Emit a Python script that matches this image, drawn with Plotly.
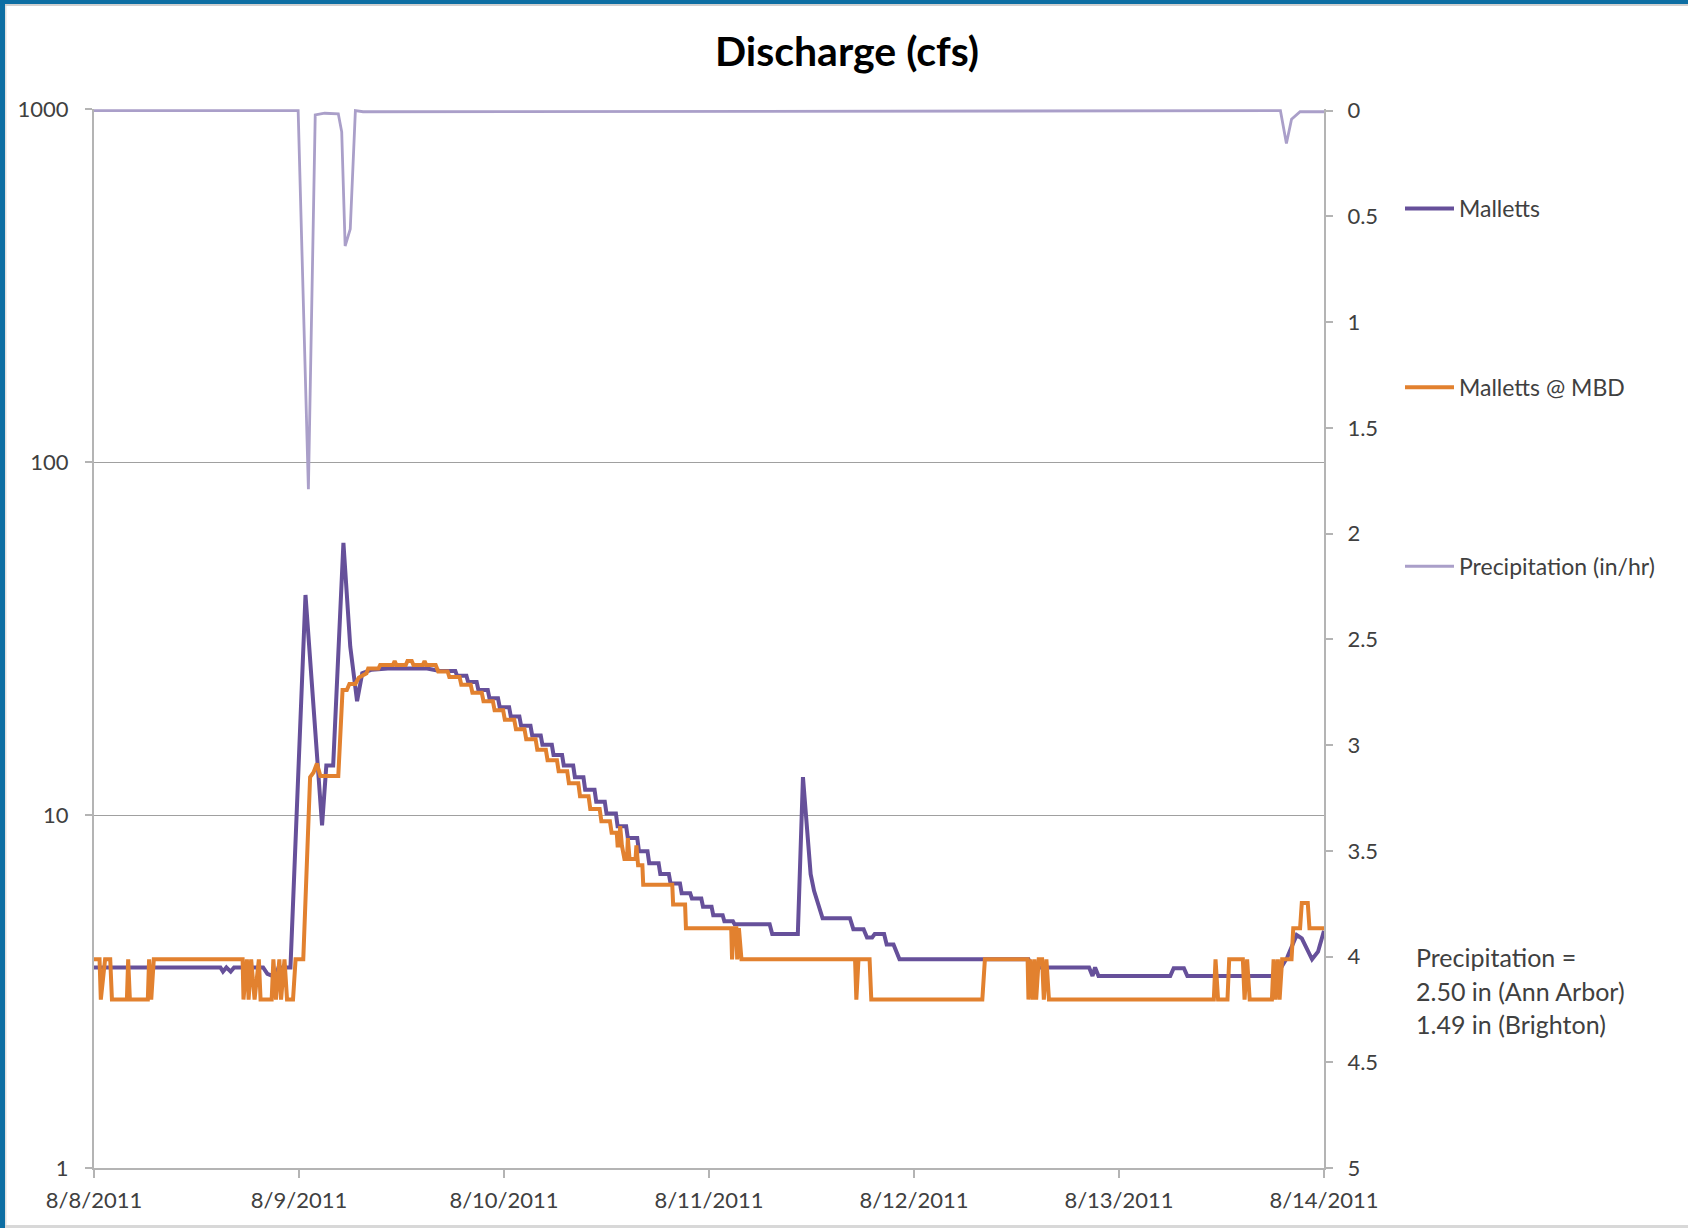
import pandas as pd
import plotly.graph_objects as go

BASE = pd.Timestamp("2011-08-08 00:00")

# ---------------- data (hours since 8/8/2011 00:00, values) ----------------
# Malletts (cfs) - explicit vertices before recession
mal_pre_h = [0, 14.8, 15.1, 15.5, 16.0, 16.4, 19.8, 20.3, 20.9, 21.2, 21.6, 23.0,
             24.76, 26.7, 27.2, 28.0, 29.2, 30.0, 30.8, 31.4, 32.5, 34.4, 39.0]
mal_pre_v = [3.7, 3.7, 3.6, 3.7, 3.6, 3.7, 3.7, 3.55, 3.5, 3.45, 3.7, 3.7,
             42, 9.35, 13.8, 13.8, 59, 30, 21, 25.2, 25.8, 26.0, 26.0]
# Malletts recession steps
mal_step_h = [40.5, 42.5, 43.8, 45.0, 46.3, 47.5, 48.8, 50.0, 51.3, 52.5, 53.8, 55.0,
              56.3, 57.5, 58.8, 60.0, 61.3, 62.5, 63.8, 65.0, 66.3, 67.5, 68.8, 70.0,
              71.3, 72.5, 73.8, 75.0]
mal_step_v = [25.6, 24.8, 23.8, 22.6, 21.4, 20.2, 19.0, 17.9, 16.8, 15.8, 14.8, 13.8,
              12.8, 11.8, 10.9, 10.1, 9.3, 8.6, 7.9, 7.3, 6.8, 6.4, 6.0, 5.8,
              5.5, 5.2, 5.0, 4.9]
# Malletts after recession
mal_post_h = [79.1, 79.4, 82.4, 83.0, 83.3, 83.6, 83.9, 84.3, 84.8, 85.3, 88.5, 88.9,
              90.1, 90.5, 91.1, 91.4, 92.5, 92.8, 93.6, 94.3, 109.4, 109.8, 116.5, 116.9,
              117.2, 117.6, 126.0, 126.4, 127.6, 128.0, 138.1, 139.0, 139.7, 140.8, 141.4,
              142.6, 143.3, 144.0]
mal_post_v = [4.9, 4.6, 4.6, 12.8, 10.5, 8.0, 6.8, 6.1, 5.6, 5.1, 5.1, 4.75,
              4.75, 4.5, 4.5, 4.6, 4.6, 4.3, 4.3, 3.9, 3.9, 3.7, 3.7, 3.5,
              3.7, 3.5, 3.5, 3.68, 3.68, 3.5, 3.5, 3.7, 3.95, 4.57, 4.47,
              3.9, 4.1, 4.7]

# Malletts @ MBD (cfs)
mbd_pre_h = [0, 0.65, 0.8, 1.3, 1.9, 2.1, 3.85, 4.0, 4.2, 6.3, 6.45, 6.7, 7.0, 17.4, 17.5,
             17.9, 18.1, 18.4, 18.8, 19.3, 19.5, 20.8, 21.0, 21.3, 21.7, 21.9, 22.3, 22.6,
             23.3, 23.6, 24.5, 25.3, 25.7, 26.1, 26.5, 28.6, 29.1, 29.6, 29.9, 30.6, 31.0,
             31.9, 32.1, 33.3, 33.5, 35.0, 35.2, 35.4, 36.5, 36.7, 37.2, 37.4, 38.5, 38.7,
             38.9, 40.0]
mbd_pre_v = [3.9, 3.9, 3.0, 3.9, 3.9, 3.0, 3.0, 3.9, 3.0, 3.0, 3.9, 3.0, 3.9, 3.9, 3.0,
             3.9, 3.0, 3.9, 3.0, 3.9, 3.0, 3.0, 3.9, 3.0, 3.9, 3.0, 3.9, 3.0,
             3.0, 3.9, 3.9, 12.8, 13.2, 14.0, 12.9, 12.9, 22.6, 22.6, 23.5, 23.5, 24.5,
             25.2, 26.0, 26.0, 26.6, 26.6, 27.3, 26.6, 26.6, 27.3, 27.3, 26.6, 26.6, 27.3,
             26.6, 26.6]
mbd_step_h = [40.3, 41.6, 43.0, 44.3, 45.6, 46.9, 48.1, 49.4, 50.6, 51.9, 53.1, 54.4,
              55.6, 56.9, 58.1, 59.4]
mbd_step_v = [25.5, 24.6, 23.4, 22.2, 21.0, 19.8, 18.6, 17.5, 16.4, 15.3, 14.3, 13.3,
              12.3, 11.3, 10.4, 9.6]
mbd_post_h = [60.6, 61.2, 61.3, 61.5, 61.6, 61.8, 62.1, 62.4, 62.5, 62.7, 63.4, 63.5,
              63.7, 64.2, 64.3, 67.7, 67.8, 69.2, 69.3, 74.6, 74.7, 74.9, 75.2, 75.3,
              75.5, 75.8, 89.1, 89.25, 89.5, 90.8, 91.0, 104.0, 104.3, 109.3, 109.4, 109.6,
              109.9, 110.1, 110.3, 110.6, 111.0, 111.2, 111.5, 111.8, 131.1, 131.3, 131.6,
              132.7, 132.9, 134.5, 134.7, 135.0, 135.3, 137.9, 138.1, 138.3, 138.6, 138.8,
              139.1, 140.2, 140.4, 141.2, 141.4, 142.1, 142.3, 144.0]
mbd_post_v = [8.9, 8.9, 8.2, 8.2, 9.3, 8.2, 7.5, 7.5, 8.6, 7.5, 7.5, 8.2,
              7.2, 7.2, 6.34, 6.34, 5.58, 5.58, 4.78, 4.78, 3.9, 4.78, 4.78, 3.9,
              4.78, 3.9, 3.9, 3.0, 3.9, 3.9, 3.0, 3.0, 3.9, 3.9, 3.0, 3.9,
              3.0, 3.9, 3.0, 3.9, 3.9, 3.0, 3.9, 3.0, 3.0, 3.9, 3.0,
              3.0, 3.9, 3.9, 3.0, 3.9, 3.0, 3.0, 3.9, 3.0, 3.9, 3.0,
              3.9, 3.9, 4.78, 4.78, 5.63, 5.63, 4.78, 4.78]

# Precipitation (in/hr)
pcp_h = [0, 23.9, 25.1, 25.9, 27.0, 28.6, 29.0, 29.4, 30.0, 30.6, 31.5, 138.9, 139.6,
         140.2, 141.2, 144.0]
pcp_v = [0, 0, 1.79, 0.02, 0.012, 0.015, 0.1, 0.64, 0.56, 0.0, 0.005, 0, 0.155,
         0.04, 0.005, 0.005]

day_ticks = ["2011-08-08", "2011-08-09", "2011-08-10", "2011-08-11",
             "2011-08-12", "2011-08-13", "2011-08-14"]
day_labels = ["8/8/2011", "8/9/2011", "8/10/2011", "8/11/2011",
              "8/12/2011", "8/13/2011", "8/14/2011"]
left_vals = [1, 10, 100, 1000]
left_labels = ["1", "10", "100", "1000"]
right_vals = [0, 0.5, 1, 1.5, 2, 2.5, 3, 3.5, 4, 4.5, 5]


def stairs(hs, vs, end_h):
    """vertices of a staircase: each level held until just before the next step"""
    out_h, out_v = [], []
    nxt = hs[1:] + [end_h]
    for h, v, n in zip(hs, vs, nxt):
        out_h += [h, n - 0.2]
        out_v += [v, v]
    return out_h, out_v


def series(pre_h, pre_v, st_h, st_v, post_h, post_v):
    sh, sv = stairs(st_h, st_v, post_h[0])
    hrs = pre_h + sh + post_h
    vals = pre_v + sv + post_v
    return [BASE + pd.Timedelta(hours=h) for h in hrs], vals


mal_x, mal_y = series(mal_pre_h, mal_pre_v, mal_step_h, mal_step_v, mal_post_h, mal_post_v)
mbd_x, mbd_y = series(mbd_pre_h, mbd_pre_v, mbd_step_h, mbd_step_v, mbd_post_h, mbd_post_v)
pcp_x = [BASE + pd.Timedelta(hours=h) for h in pcp_h]

# ---------------- layout geometry (pixels) ----------------
W, H = 1688, 1228
L, R, T, B = 94, 1324, 109, 1168
PW, PH = R - L, B - T


def px(x):
    return (x - L) / PW


def py(y):
    return 1 - (y - T) / PH


FONT = "Lato, 'Open Sans', sans-serif"
TXT = "#404040"
PURPLE = "#66509a"
ORANGE = "#e2812f"
PCP = "#aa9fc9"
AXC = "#b4b4b4"

fig = go.Figure()
fig.add_trace(go.Scatter(x=mal_x, y=mal_y, mode="lines", name="Malletts",
                         legendgroup="a", line=dict(color=PURPLE, width=4)))
fig.add_trace(go.Scatter(x=mbd_x, y=mbd_y, mode="lines", name="Malletts @ MBD",
                         legendgroup="b", line=dict(color=ORANGE, width=4)))
fig.add_trace(go.Scatter(x=pcp_x, y=pcp_v, mode="lines", name="Precipitation (in/hr)",
                         legendgroup="c", yaxis="y2", line=dict(color=PCP, width=2.8)))

fig.update_layout(
    width=W, height=H,
    margin=dict(l=L, r=W - R, t=T, b=H - B),
    paper_bgcolor="white", plot_bgcolor="white",
    font=dict(family=FONT, size=22, color=TXT),
    title=dict(text="<b>Discharge (cfs)</b>", x=847 / W, xanchor="center",
               y=1 - 52 / H, yanchor="middle", yref="container",
               font=dict(family=FONT, size=41, color="#000000")),
    xaxis=dict(type="date", range=[day_ticks[0], day_ticks[-1]],
               tickvals=day_ticks, ticktext=day_labels,
               showgrid=False, zeroline=False, showline=True, linecolor=AXC, linewidth=2,
               ticks="outside", ticklen=8, tickwidth=1.5, tickcolor=AXC,
               ticklabelstandoff=4, tickfont=dict(size=22, color=TXT)),
    yaxis=dict(type="log", range=[0, 3], tickvals=left_vals, ticktext=left_labels,
               showgrid=True, gridcolor="#a0a0a0", gridwidth=1.2, zeroline=False,
               showline=True, linecolor=AXC, linewidth=2,
               ticks="outside", ticklen=7, tickwidth=1.5, tickcolor=AXC,
               ticklabelstandoff=12, tickfont=dict(size=22, color=TXT)),
    yaxis2=dict(overlaying="y", side="right", range=[5, -0.008], tickvals=right_vals,
                showgrid=False, zeroline=False, showline=True, linecolor=AXC, linewidth=2,
                ticks="outside", ticklen=7, tickwidth=1.5, tickcolor=AXC,
                ticklabelstandoff=10, tickfont=dict(size=22, color=TXT)),
    legend=dict(x=px(1400), y=py(187), xanchor="left", yanchor="top",
                tracegroupgap=146, font=dict(size=23, color=TXT),
                bgcolor="rgba(0,0,0,0)", itemwidth=49),
    showlegend=True,
)

# precipitation totals note
for i, line in enumerate(["Precipitation =", "2.50 in (Ann Arbor)", "1.49 in (Brighton)"]):
    fig.add_annotation(text=line, xref="paper", yref="paper", x=px(1414), y=py(957 + 33.5 * i),
                       xanchor="left", yanchor="middle", showarrow=False,
                       font=dict(family=FONT, size=25, color=TXT))

# outer frame (blue top/left band, light edges)
frame = [
    (0, 0, W, 4, "#0d6ea3"),
    (0, 0, 5, H, "#0d6ea3"),
    (5, 4, W, 6, "#d0d0d0"),
    (5, 6, 6.5, H, "#e0e0e0"),
    (5, H - 3, W, H, "#d8d8d8"),
]
for x0, y0, x1, y1, c in frame:
    fig.add_shape(type="rect", xref="paper", yref="paper",
                  x0=px(x0), x1=px(x1), y0=py(y0), y1=py(y1),
                  fillcolor=c, line=dict(width=0), layer="above")

fig.write_html("out.html", config={"displayModeBar": False},
               post_script="document.body.style.margin='0';document.body.style.overflow='hidden';")
